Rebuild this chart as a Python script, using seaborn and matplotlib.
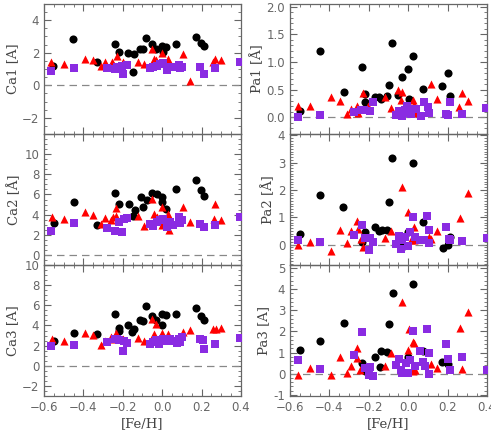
import numpy as np
import pandas as pd
import seaborn as sns
import matplotlib
matplotlib.use("Agg")
import matplotlib.pyplot as plt
from matplotlib.ticker import MultipleLocator, FormatStrFormatter

# ---- data: (Fe/H, value) pairs ----
ca1_circle = [(-0.554, 1.18), (-0.452, 2.84), (-0.33, 1.41), (-0.24, 2.53), (-0.22, 2.02),
              (-0.172, 2.0), (-0.15, 0.80), (-0.142, 1.94), (-0.113, 2.22), (-0.10, 2.22),
              (-0.084, 2.88), (-0.053, 2.55), (-0.033, 2.22), (0.0, 2.41), (0.018, 2.35),
              (0.005, 2.05), (0.07, 2.55), (0.171, 2.94), (0.198, 2.61), (0.21, 2.41)]
ca1_triangle = [(-0.563, 1.41), (-0.50, 1.33), (-0.393, 1.61), (-0.35, 1.53), (-0.311, 1.18),
                (-0.29, 1.41), (-0.257, 1.41), (-0.25, 1.33), (-0.228, 1.80), (-0.2, 1.41),
                (-0.121, 1.41), (-0.092, 1.33), (-0.05, 2.22), (-0.041, 1.61), (-0.03, 1.55),
                (0.0, 1.96), (0.028, 1.61), (0.108, 1.90), (0.142, 0.27), (0.26, 1.41),
                (0.27, 1.61), (0.30, 1.53)]
ca1_square = [(-0.563, 0.90), (-0.45, 1.08), (-0.28, 1.04), (-0.24, 1.0), (-0.228, 1.14),
              (-0.206, 1.2), (-0.2, 0.67), (-0.18, 1.27), (-0.062, 1.04), (-0.045, 1.14),
              (-0.028, 1.2), (-0.011, 1.29), (0.006, 1.35), (0.023, 0.94), (0.04, 1.14),
              (0.057, 1.10), (0.083, 1.24), (0.10, 1.14), (0.09, 1.04), (0.193, 1.14),
              (0.21, 0.71), (0.27, 1.06), (0.393, 1.43)]

pa1_circle = [(-0.549, 0.12), (-0.45, 1.20), (-0.327, 0.46), (-0.237, 0.92), (-0.22, 0.43),
              (-0.217, 0.27), (-0.169, 0.37), (-0.149, 0.37), (-0.14, 0.33), (-0.106, 0.38),
              (-0.097, 0.58), (-0.08, 1.34), (-0.05, 0.40), (-0.029, 0.73), (0.001, 0.87),
              (0.005, 0.34), (0.022, 1.11), (0.073, 0.51), (0.172, 0.57), (0.20, 0.80),
              (0.213, 0.39)]
pa1_triangle = [(-0.56, 0.20), (-0.50, 0.21), (-0.39, 0.36), (-0.348, 0.30), (-0.31, 0.06),
                (-0.288, 0.15), (-0.26, 0.20), (-0.254, 0.08), (-0.23, 0.45), (-0.205, 0.20),
                (-0.118, 0.36), (-0.089, 0.17), (-0.05, 0.49), (-0.038, 0.31), (-0.029, 0.46),
                (0.022, 0.31), (0.03, 0.23), (0.039, 0.08), (0.116, 0.60), (0.144, 0.33),
                (0.26, 0.18), (0.272, 0.44), (0.303, 0.30)]
pa1_square = [(-0.56, 0.0), (-0.448, 0.05), (-0.276, 0.09), (-0.24, 0.14), (-0.222, 0.13),
              (-0.196, 0.12), (-0.178, 0.27), (-0.063, 0.05), (-0.046, 0.11), (-0.029, 0.03),
              (-0.016, 0.13), (-0.004, 0.20), (0.005, 0.08), (0.013, 0.06), (0.022, 0.16),
              (0.039, 0.16), (0.064, 0.02), (0.081, 0.27), (0.098, 0.18), (0.104, 0.08),
              (0.192, 0.07), (0.20, 0.04), (0.214, 0.27), (0.274, 0.07), (0.397, 0.17)]

ca2_circle = [(-0.551, 3.17), (-0.45, 5.26), (-0.33, 3.0), (-0.24, 6.18), (-0.22, 5.03),
              (-0.17, 5.10), (-0.15, 3.86), (-0.138, 4.48), (-0.109, 5.72), (-0.10, 4.8),
              (-0.078, 5.46), (-0.052, 6.18), (-0.028, 6.01), (-0.002, 5.78), (0.001, 5.26),
              (0.018, 4.54), (0.069, 6.57), (0.171, 7.42), (0.198, 6.44), (0.21, 5.88)]
ca2_triangle = [(-0.559, 3.79), (-0.50, 3.56), (-0.393, 4.22), (-0.35, 3.99), (-0.311, 3.07),
                (-0.29, 3.66), (-0.26, 3.50), (-0.252, 3.76), (-0.232, 3.89), (-0.232, 4.64),
                (-0.2, 3.66), (-0.121, 3.89), (-0.092, 2.91), (-0.05, 5.52), (-0.041, 4.08),
                (-0.028, 3.76), (-0.002, 4.74), (-0.002, 3.0), (0.028, 4.08), (0.032, 2.45),
                (0.108, 4.80), (0.142, 3.33), (0.264, 3.59), (0.27, 5.03), (0.30, 3.50)]
ca2_square = [(-0.563, 2.39), (-0.45, 3.17), (-0.28, 2.68), (-0.24, 2.35), (-0.22, 3.24),
              (-0.203, 2.29), (-0.194, 3.56), (-0.177, 3.66), (-0.062, 3.1), (-0.045, 2.91),
              (-0.028, 3.33), (-0.011, 3.50), (0.006, 3.59), (0.023, 2.78), (0.04, 3.33),
              (0.057, 3.0), (0.083, 3.73), (0.09, 3.17), (0.103, 3.50), (0.193, 3.1),
              (0.21, 2.84), (0.27, 3.0), (0.393, 3.82)]

pa2_circle = [(-0.549, 0.39), (-0.45, 1.82), (-0.329, 1.37), (-0.22, 0.45), (-0.237, 0.09),
              (-0.169, 0.66), (-0.149, 0.48), (-0.135, 0.54), (-0.106, 0.54), (-0.097, 1.55),
              (-0.08, 3.17), (-0.029, -0.10), (0.001, 0.45), (0.022, 2.99), (0.073, 0.84),
              (0.175, -0.12), (0.20, 0.0), (0.213, 0.29)]
pa2_triangle = [(-0.56, 0.0), (-0.50, 0.09), (-0.39, -0.22), (-0.348, 0.54), (-0.31, 0.05),
                (-0.288, 0.51), (-0.26, 0.86), (-0.254, 0.58), (-0.242, 0.21), (-0.23, -0.10),
                (-0.118, 0.24), (-0.089, 0.49), (-0.029, 2.1), (0.001, 1.19), (0.013, 0.17),
                (0.03, 0.66), (0.03, 0.15), (0.104, 0.29), (0.116, 0.21), (0.144, 0.51),
                (0.264, 0.97), (0.303, 1.90)]
pa2_square = [(-0.56, 0.17), (-0.448, 0.09), (-0.276, 0.35), (-0.237, 0.70), (-0.217, 0.24),
              (-0.20, -0.20), (-0.196, 0.24), (-0.178, 0.09), (-0.06, 0.02), (-0.046, 0.33),
              (-0.038, -0.16), (-0.029, 0.17), (-0.016, 0.29), (0.001, -0.07), (0.01, 0.45),
              (0.025, 1.0), (0.035, 0.29), (0.061, 0.18), (0.081, 0.17), (0.093, 1.06),
              (0.104, 0.54), (0.104, 0.05), (0.192, 0.66), (0.206, 0.21), (0.214, 0.15),
              (0.274, 0.12), (0.40, 0.23)]

ca3_circle = [(-0.549, 2.41), (-0.45, 3.27), (-0.33, 3.11), (-0.24, 5.09), (-0.22, 3.70),
              (-0.218, 3.50), (-0.172, 4.0), (-0.152, 3.40), (-0.142, 3.67), (-0.113, 4.53),
              (-0.10, 4.40), (-0.084, 5.92), (-0.053, 4.93), (-0.031, 4.53), (-0.002, 5.09),
              (0.001, 4.03), (0.018, 4.99), (0.069, 5.16), (0.171, 5.75), (0.198, 4.93),
              (0.21, 4.50)]
ca3_triangle = [(-0.56, 2.68), (-0.50, 2.45), (-0.393, 3.21), (-0.35, 3.04), (-0.311, 2.02),
                (-0.29, 2.45), (-0.26, 2.84), (-0.252, 2.68), (-0.232, 3.21), (-0.2, 2.68),
                (-0.121, 2.74), (-0.092, 2.45), (-0.05, 4.66), (-0.041, 3.17), (-0.031, 4.17),
                (-0.002, 3.21), (0.028, 3.11), (0.108, 3.34), (0.142, 3.54), (0.26, 3.60),
                (0.273, 3.60), (0.30, 3.77)]
ca3_square = [(-0.563, 1.95), (-0.45, 2.05), (-0.28, 2.38), (-0.24, 2.61), (-0.228, 2.68),
              (-0.218, 2.51), (-0.2, 1.49), (-0.196, 2.45), (-0.18, 2.21), (-0.062, 2.18),
              (-0.045, 2.35), (-0.031, 2.55), (-0.014, 2.15), (0.006, 2.68), (0.023, 2.45),
              (0.04, 2.61), (0.057, 2.45), (0.074, 2.21), (0.083, 2.61), (0.10, 2.88),
              (0.09, 2.35), (0.193, 2.68), (0.207, 2.51), (0.214, 1.69), (0.27, 2.12),
              (0.393, 2.74)]

pa3_circle = [(-0.549, 1.10), (-0.448, 1.55), (-0.327, 2.40), (-0.237, 0.53), (-0.217, 0.14),
              (-0.169, 0.80), (-0.145, 0.31), (-0.137, 1.08), (-0.106, 1.05), (-0.097, 2.34),
              (-0.077, 3.83), (0.001, 0.80), (0.022, 4.22), (0.073, 1.08), (0.172, 0.56),
              (0.20, 0.45)]
pa3_triangle = [(-0.56, -0.05), (-0.50, 0.27), (-0.39, -0.08), (-0.348, 0.77), (-0.31, 0.03),
                (-0.288, 0.38), (-0.26, 0.75), (-0.258, 1.21), (-0.247, 0.19), (-0.118, 0.39),
                (-0.089, 0.97), (-0.029, 3.37), (0.001, 1.13), (0.005, 2.10), (0.022, 0.11),
                (0.025, 1.49), (0.03, 1.47), (0.035, 0.19), (0.116, 0.45), (0.144, 0.27),
                (0.264, 2.18), (0.274, 0.22), (0.303, 2.90)]
pa3_square = [(-0.56, 0.64), (-0.448, 0.24), (-0.276, 0.89), (-0.237, 1.96), (-0.22, 0.27),
              (-0.20, -0.08), (-0.195, 0.31), (-0.178, -0.09), (-0.063, 0.42), (-0.046, 0.72),
              (-0.038, 0.19), (-0.029, 0.06), (-0.012, 0.53), (0.001, 0.03), (0.01, 0.67),
              (0.022, 2.04), (0.035, 0.35), (0.059, 1.08), (0.076, 0.58), (0.093, 2.10),
              (0.104, 0.96), (0.104, -0.02), (0.086, 0.36), (0.192, 1.41), (0.204, 0.69),
              (0.214, 0.16), (0.274, 0.80), (0.40, 0.20)]

panels = [
    ("Ca1", "Ca1 [A]", ca1_circle, ca1_triangle, ca1_square, (-3, 5), 2, 0.5),
    ("Pa1", "Pa1 [Å]", pa1_circle, pa1_triangle, pa1_square, (-0.3, 2.05), 0.5, 0.1),
    ("Ca2", "Ca2 [Å]", ca2_circle, ca2_triangle, ca2_square, (-0.95, 11.95), 2, 0.5),
    ("Pa2", "Pa2 [Å]", pa2_circle, pa2_triangle, pa2_square, (-0.75, 4.05), 1, 0.1),
    ("Ca3", "Ca3 [A]", ca3_circle, ca3_triangle, ca3_square, (-3, 10), 2, 0.5),
    ("Pa3", "Pa3 [A]", pa3_circle, pa3_triangle, pa3_square, (-1.05, 5.14), 1, 0.2),
]

rows = []
for name, _, circ, tri, sq, *_rest in panels:
    for kind, pts in (("circle", circ), ("triangle", tri), ("square", sq)):
        for x, y in pts:
            rows.append((name, kind, x, y))
df = pd.DataFrame(rows, columns=["line", "kind", "feh", "ew"])

sns.set_style("ticks")
plt.rcParams["font.family"] = ["DejaVu Sans"]

fig = plt.figure(figsize=(4.91, 4.36), dpi=100)
left_x, right_x = 44 / 491, 290 / 491
col_w = 197 / 491
tops = [4, 134, 265, 396]

palette = {"circle": "black", "triangle": "#ff0000", "square": "#8a2be2"}
markers = {"circle": "o", "triangle": "^", "square": "s"}
sizes = {"circle": 34, "triangle": 34, "square": 26}
grey = "#666666"

for i, (name, label, _c, _t, _s, ylim, major, minor) in enumerate(panels):
    row, col = divmod(i, 2)
    y0 = (436 - tops[row + 1]) / 436
    h = (tops[row + 1] - tops[row]) / 436
    ax = fig.add_axes([left_x if col == 0 else right_x, y0, col_w, h])
    ax.axhline(0, color="#888888", lw=0.9, ls=(0, (6, 4)), zorder=1)
    sub = df[df["line"] == name]
    for kind in ("circle", "triangle", "square"):
        part = sub[sub["kind"] == kind]
        sns.scatterplot(data=part, x="feh", y="ew", ax=ax, color=palette[kind],
                        marker=markers[kind], s=sizes[kind], linewidth=0,
                        legend=False, zorder=3)
    ax.set_xlim(-0.6, 0.4)
    ax.set_ylim(*ylim)
    ax.xaxis.set_major_locator(MultipleLocator(0.2))
    ax.xaxis.set_minor_locator(MultipleLocator(0.05))
    ax.yaxis.set_major_locator(MultipleLocator(major))
    ax.yaxis.set_minor_locator(MultipleLocator(minor))
    ax.tick_params(which="both", direction="in", top=True, right=True, color=grey,
                   labelcolor=grey, labelsize=8.5)
    ax.tick_params(which="major", length=5, width=0.8)
    ax.tick_params(which="minor", length=2.5, width=0.6)
    if name.startswith("Pa"):
        ax.yaxis.set_major_formatter(FormatStrFormatter("%.1f") if major < 1
                                     else FormatStrFormatter("%d"))
    for sp in ax.spines.values():
        sp.set_color(grey)
        sp.set_linewidth(0.9)
    ax.set_ylabel(label, family="DejaVu Serif", fontsize=9.5, color="#444444", labelpad=2)
    if row == 2:
        ax.set_xlabel("[Fe/H]", family="DejaVu Serif", fontsize=9.5, color="#444444", labelpad=2)
    else:
        ax.set_xlabel("")
        ax.tick_params(axis="x", labelbottom=False)
    ax.patch.set_alpha(0)

fig.savefig("out.png", dpi=100)
